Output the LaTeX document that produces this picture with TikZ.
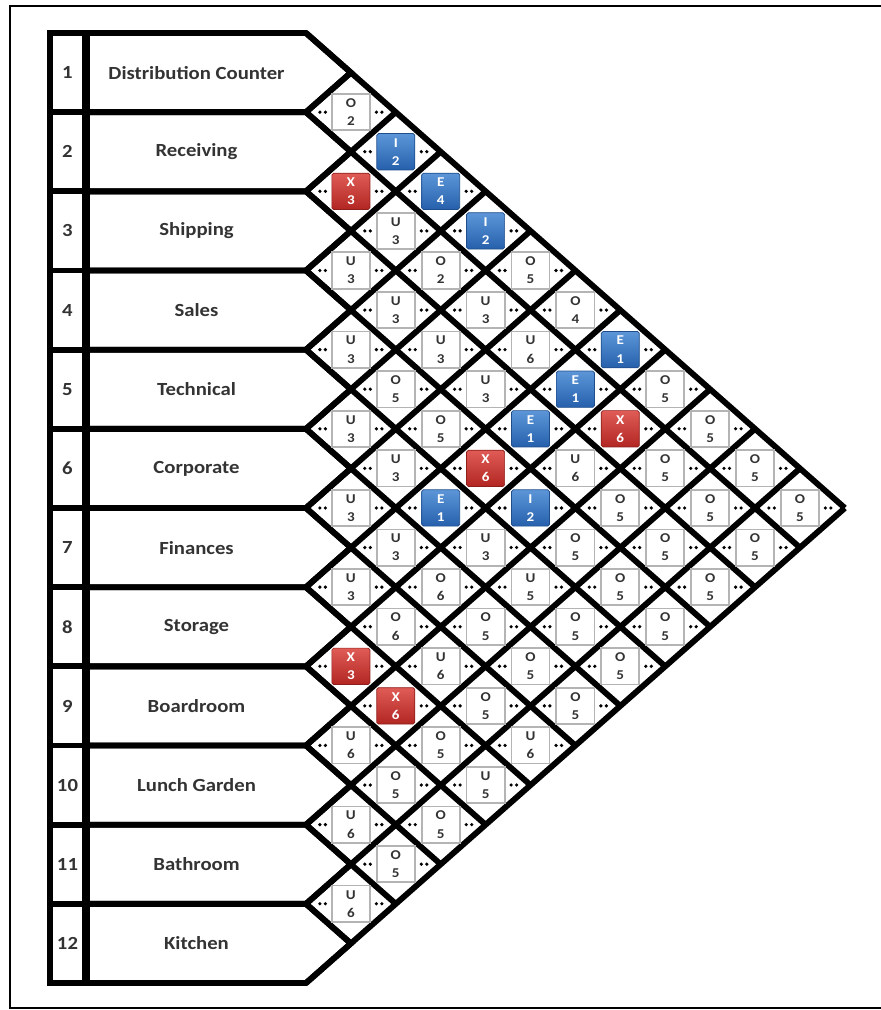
\documentclass[tikz,border=0pt]{standalone}
\usepackage{fontspec}
\setmainfont{Carlito}[FakeStretch=1.12]
\usepackage{tikz}

\definecolor{cellgray}{RGB}{180,180,180}
\definecolor{blueTop}{RGB}{92,150,216}
\definecolor{blueBot}{RGB}{38,96,172}
\definecolor{redTop}{RGB}{224,92,86}
\definecolor{redBot}{RGB}{178,38,34}

\begin{document}
\begin{tikzpicture}[x=0.03cm, y=-0.03cm,
    rowname/.style={font=\fontsize{15.8}{18}\selectfont\bfseries, text=black!80},
    thick line/.style={line width=5pt},
    cell/.style={draw=cellgray, fill=white, line width=1.5pt, minimum width=32.5pt, minimum height=31pt,
        inner sep=0pt, align=center, font=\fontsize{11.5}{15.5}\selectfont\bfseries, text=black!80},
    cellblue/.style={cell, draw=blueBot!80!black, line width=0.6pt, top color=blueTop, bottom color=blueBot,
        rounded corners=1.5pt, text=white},
    cellred/.style={cell, draw=redBot!80!black, line width=0.6pt, top color=redTop, bottom color=redBot,
        rounded corners=1.5pt, text=white}
]
    \useasboundingbox (0,0) rectangle (881,1010);
    % outer frame
    \draw[line width=2pt] (10,6) rectangle (884,1008);

    % rows: number cell and name shape
    \foreach \i/\name in {1/Distribution Counter, 2/Receiving, 3/Shipping, 4/Sales, 5/Technical,
        6/Corporate, 7/Finances, 8/Storage, 9/Boardroom, 10/Lunch Garden, 11/Bathroom, 12/Kitchen}{
        \pgfmathsetmacro\top{33+(\i-1)*79.17}
        \pgfmathsetmacro\bot{33+\i*79.17}
        \pgfmathsetmacro\mid{33+(\i-0.5)*79.17}
        \draw[thick line] (50,\top) rectangle (85,\bot);
        \draw[thick line] (87,\top) -- (306,\top) -- (350.9,\mid) -- (306,\bot) -- (87,\bot) -- cycle;
        \node[rowname] (n\i) at (67.5,\mid) {\i};
        \node[rowname] (r\i) at (196.5,\mid) {\name};
    }

    % diamond grid
    \foreach \k in {0,...,12}{
        \coordinate (b\k) at (306,{33+\k*79.17});
        \draw[thick line] (b\k) -- ++({(12-\k)*44.9},{(12-\k)*39.58});
        \draw[thick line] (b\k) -- ++({\k*44.9},{-\k*39.58});
    }

    % relationship cells
    \foreach \i/\j/\ltr/\num/\s in {
        1/2/O/2/cell, 1/3/I/2/cellblue, 2/3/X/3/cellred, 1/4/E/4/cellblue, 2/4/U/3/cell,
        1/5/I/2/cellblue, 3/4/U/3/cell, 2/5/O/2/cell, 1/6/O/5/cell, 3/5/U/3/cell,
        2/6/U/3/cell, 1/7/O/4/cell, 4/5/U/3/cell, 3/6/U/3/cell, 2/7/U/6/cell,
        1/8/E/1/cellblue, 4/6/O/5/cell, 3/7/U/3/cell, 2/8/E/1/cellblue, 1/9/O/5/cell,
        5/6/U/3/cell, 4/7/O/5/cell, 3/8/E/1/cellblue, 2/9/X/6/cellred, 1/10/O/5/cell,
        5/7/U/3/cell, 4/8/X/6/cellred, 3/9/U/6/cell, 2/10/O/5/cell, 1/11/O/5/cell,
        6/7/U/3/cell, 5/8/E/1/cellblue, 4/9/I/2/cellblue, 3/10/O/5/cell, 2/11/O/5/cell,
        1/12/O/5/cell, 6/8/U/3/cell, 5/9/U/3/cell, 4/10/O/5/cell, 3/11/O/5/cell,
        2/12/O/5/cell, 7/8/U/3/cell, 6/9/O/6/cell, 5/10/U/5/cell, 4/11/O/5/cell,
        3/12/O/5/cell, 7/9/O/6/cell, 6/10/O/5/cell, 5/11/O/5/cell, 4/12/O/5/cell,
        8/9/X/3/cellred, 7/10/U/6/cell, 6/11/O/5/cell, 5/12/O/5/cell, 8/10/X/6/cellred,
        7/11/O/5/cell, 6/12/O/5/cell, 9/10/U/6/cell, 8/11/O/5/cell, 7/12/U/6/cell,
        9/11/O/5/cell, 8/12/U/5/cell, 10/11/U/6/cell, 9/12/O/5/cell, 10/12/O/5/cell,
        11/12/U/6/cell}{
        \pgfmathsetmacro\cx{306+(\j-\i)*44.9}
        \pgfmathsetmacro\cy{33+(\i+\j-1)*39.58}
        \fill (\cx-31,\cy) circle (1.8) (\cx-25.5,\cy) circle (1.8)
              (\cx+25.5,\cy) circle (1.8) (\cx+31,\cy) circle (1.8);
        \node[\s] (c\i-\j) at (\cx,\cy) {\ltr\\\num};
    }
\end{tikzpicture}
\end{document}
